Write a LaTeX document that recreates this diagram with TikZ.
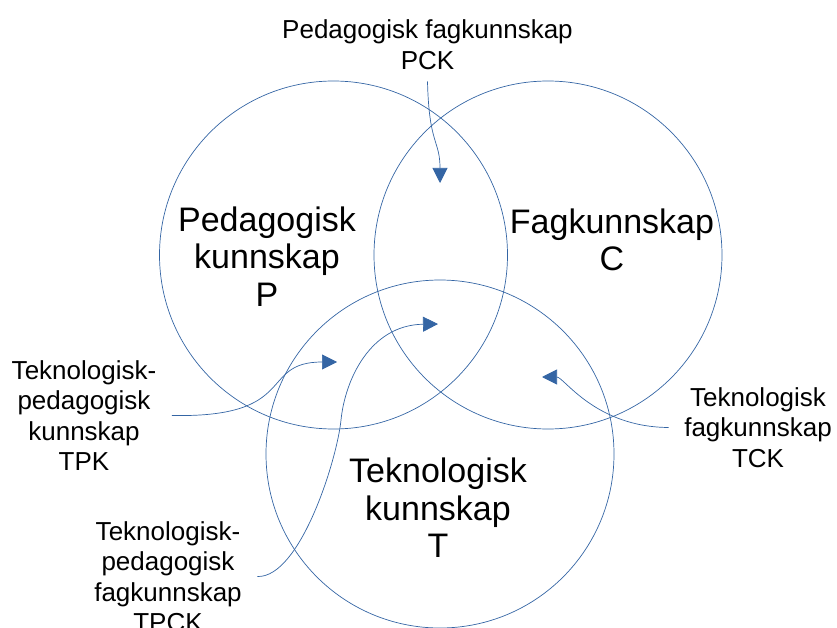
\documentclass[tikz,border=0pt]{standalone}
\usepackage{fontspec}
\setmainfont{Liberation Sans}
\usepackage{tikz}
\usetikzlibrary{arrows.meta}
\definecolor{tpackblue}{RGB}{52,101,164}

\begin{document}
\begin{tikzpicture}[x=1pt, y=-1pt,
  venn/.style={draw=tpackblue, circle, minimum size=348pt, line width=0.7pt},
  areabox/.style={align=center, font=\fontsize{34}{37.5}\selectfont},
  overlap/.style={align=center, font=\fontsize{26}{30.5}\selectfont,
              inner xsep=15.5pt, inner ysep=12pt},
  arrow/.style={-{Triangle[length=15pt, width=15pt]}, draw=tpackblue, line width=0.7pt},
]
  \useasboundingbox (0,0) rectangle (837,628);

  % Knowledge circles
  \node[venn] (circP) at (333.5,255) {};
  \node[venn] (circC) at (548,255) {};
  \node[venn] (circT) at (440,454) {};

  % Circle labels
  \node[areabox] (lblP) at (267,256.5) {Pedagogisk\\kunnskap\\P};
  \node[areabox] (lblC) at (612,240) {Fagkunnskap\\C};
  \node[areabox] (lblT) at (438,508) {Teknologisk\\kunnskap\\T};

  % Overlap labels
  \node[overlap] (pck) at (427.5,44.5) {Pedagogisk fagkunnskap\\PCK};
  \node[overlap] (tpk) at (84,415.5) {Teknologisk-\\pedagogisk\\kunnskap\\TPK};
  \node[overlap] (tpck) at (168,576.5) {Teknologisk-\\pedagogisk\\fagkunnskap\\TPCK};
  \node[overlap] (tck) at (758,427.5) {Teknologisk\\fagkunnskap\\TCK};

  % Arrow ends
  \coordinate (pckTip) at (440,183);
  \coordinate (tpkTip) at (337,362);
  \coordinate (tpckMid) at (341,420);
  \coordinate (tpckTip) at (438,324);
  \coordinate (tckTip) at (542,377);

  % Arrows into the overlaps
  \draw[arrow] (pck.south) .. controls (429,145) and (440,140) .. (pckTip);
  \draw[arrow] (tpk.east) .. controls (300,418) and (258,362) .. (tpkTip);
  \draw[arrow] (tpck.east) .. controls (300,578) and (337,460) .. (tpckMid)
                           .. controls (345,380) and (370,325) .. (tpckTip);
  \draw[arrow] (tck.west) .. controls (595,427) and (564,377) .. (tckTip);
\end{tikzpicture}
\end{document}
